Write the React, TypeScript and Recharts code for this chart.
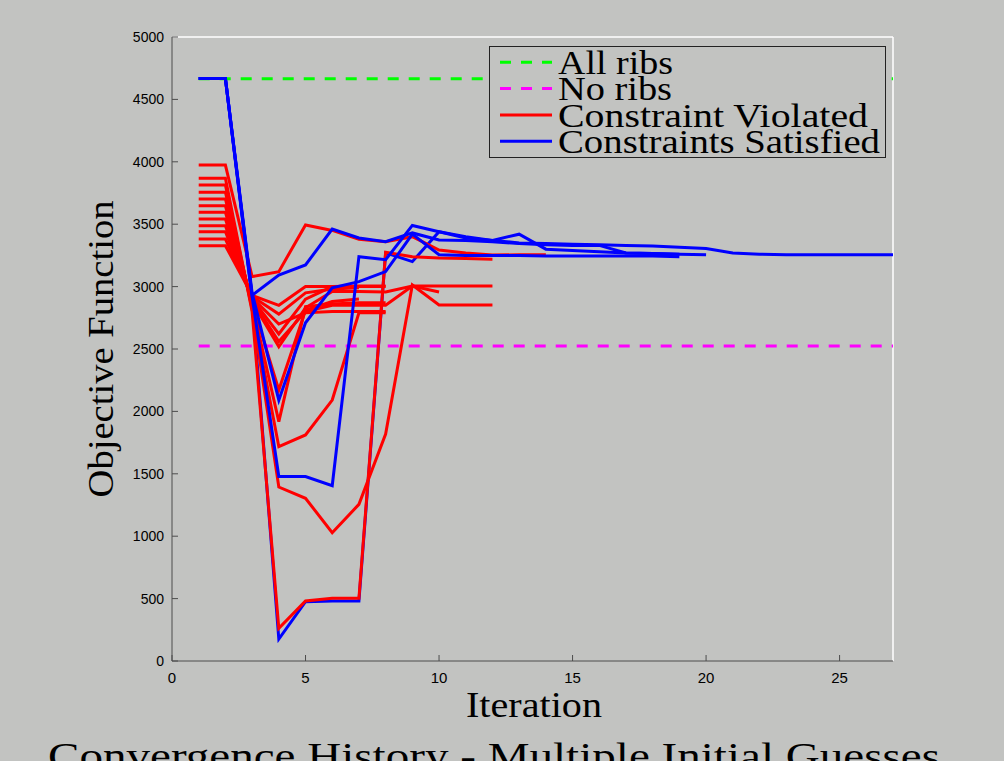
import React from 'react';
import { LineChart, Line, XAxis, YAxis, ReferenceLine, Legend, Label } from 'recharts';

// ---- data ----
const xTicks = [0, 5, 10, 15, 20, 25];
const yTicks = [0, 500, 1000, 1500, 2000, 2500, 3000, 3500, 4000, 4500, 5000];
const refStartEnd = [1, 27];
const allRibsValue = 4665;
const noRibsValue = 2525;

// Constraint violated runs (objective value per iteration, starting at iteration 1)
const red1 = [3974, 3974, 3080, 3120, 3494, 3450, 3380, 3360, 3400, 3293, 3270, 3253, 3255, 3255];
const red2 = [3868, 3868, 2800, 262, 481, 502, 502, 3275, 3240, 3230, 3225, 3220];
const red3 = [3814, 3814, 2820, 1394, 1304, 1028, 1255, 1819, 3013, 2853, 2853, 2853];
const red4 = [3756, 3756, 2840, 1717, 1811, 2091, 2790, 2790];
const red5 = [3702, 3702, 2860, 1918, 2840, 2860, 2870, 2870];
const red6 = [3648, 3648, 2870, 2171, 2810, 2880, 2900];
const red7 = [3595, 3595, 2880, 2518, 2830, 2960, 2960, 2957, 3005, 2957];
const red8 = [3542, 3542, 2890, 2560, 2800, 2850, 2850, 2850, 3005, 3005, 3005, 3005];
const red9 = [3488, 3488, 2900, 2620, 2900, 3000, 3005, 3005];
const red10 = [3440, 3440, 2910, 2700, 2790, 2800, 2800, 2800];
const red11 = [3381, 3381, 2920, 2780, 2950, 2980, 2990];
const red12 = [3328, 3328, 2930, 2850, 3000, 3000, 3000, 3000];

// Constraints satisfied runs
const blueA = [4667, 4667, 2900, 176, 475, 480, 480, 3270, 3200, 3440, 3390, 3370, 3350, 3345, 3340, 3335, 3330, 3325, 3315, 3305, 3270, 3260, 3255, 3255, 3255, 3255, 3255];
const blueB = [4667, 4667, 2920, 1478, 1478, 1405, 3240, 3215, 3490, 3440, 3400, 3370, 3420, 3300, 3290, 3280, 3270, 3265, 3260, 3255];
const blueC = [4667, 4667, 2950, 2090, 2710, 2990, 3040, 3120, 3420, 3255, 3250, 3250, 3250, 3245, 3245, 3245, 3245, 3245, 3240];
const blueD = [4667, 4667, 2930, 3093, 3173, 3461, 3390, 3360, 3430, 3373, 3370, 3360, 3345, 3335, 3330, 3330, 3270, 3265, 3260];

const legendNames = ['All ribs', 'No ribs', 'Constraint Violated', 'Constraints Satisfied'];

// ---- helpers ----
const toPoints = (vals: number[]) => vals.map((v, i) => ({ x: i + 1, y: v }));
const refPoints = (v: number) => refStartEnd.map((x) => ({ x, y: v }));

const RED = '#ff0000';
const BLUE = '#0000ff';
const BG = '#c2c3c1';
const AXIS = '#4d4d4d';
const SERIF = '"Liberation Serif", "DejaVu Serif", serif';
const SANS = '"Liberation Sans", Arial, sans-serif';

const series: { key: string; vals: number[]; color: string }[] = [
  { key: 'blueA', vals: blueA, color: BLUE },
  { key: 'red1', vals: red1, color: RED },
  { key: 'red2', vals: red2, color: RED },
  { key: 'red3', vals: red3, color: RED },
  { key: 'red4', vals: red4, color: RED },
  { key: 'red5', vals: red5, color: RED },
  { key: 'red6', vals: red6, color: RED },
  { key: 'red7', vals: red7, color: RED },
  { key: 'red8', vals: red8, color: RED },
  { key: 'red9', vals: red9, color: RED },
  { key: 'red10', vals: red10, color: RED },
  { key: 'red11', vals: red11, color: RED },
  { key: 'red12', vals: red12, color: RED },
  { key: 'blueB', vals: blueB, color: BLUE },
  { key: 'blueC', vals: blueC, color: BLUE },
  { key: 'blueD', vals: blueD, color: BLUE },
];

const YTick = (props: any) => {
  const { x, y, payload } = props;
  return (
    <g>
      <line x1={x + 8} x2={x + 14} y1={y} y2={y} stroke={AXIS} strokeWidth={1} />
      <text x={x} y={y} textAnchor="end" dominantBaseline="central" fontFamily={SANS} fontSize={14} fill="#000">
        {payload.value}
      </text>
    </g>
  );
};

const XTick = (props: any) => {
  const { x, y, payload } = props;
  return (
    <g>
      <line x1={x} x2={x} y1={y - 10} y2={y - 16} stroke={AXIS} strokeWidth={1} />
      <text x={x} y={y + 6} textAnchor="middle" dominantBaseline="central" fontFamily={SANS} fontSize={15} fill="#000">
        {payload.value}
      </text>
    </g>
  );
};

const legendStyles = [
  { color: '#00ff00', dash: '11 10', len: 115 },
  { color: '#ff00ff', dash: '11 10', len: 114 },
  { color: RED, dash: undefined, len: 310 },
  { color: BLUE, dash: undefined, len: 322 },
];

const LegendBox = () => (
  <svg width={397} height={112} style={{ display: 'block', overflow: 'visible' }}>
    <rect x={0.5} y={0.5} width={396} height={111} fill={BG} stroke="#222" strokeWidth={1} />
    {legendNames.map((name, i) => {
      const ly = 16.3 + i * 26.3;
      const st = legendStyles[i];
      return (
        <g key={name}>
          <line x1={11} x2={63} y1={ly} y2={ly} stroke={st.color} strokeWidth={3} strokeDasharray={st.dash} />
          <text x={69} y={ly + 11.7} fontFamily={SERIF} fontSize={34} fill="#000" textLength={st.len} lengthAdjust="spacingAndGlyphs">
            {name}
          </text>
        </g>
      );
    })}
  </svg>
);

export default function App() {
  return (
    <div style={{ position: 'absolute', left: 0, top: 0, width: 1004, height: 761, background: BG, overflow: 'hidden' }}>
      <LineChart width={1004} height={761} margin={{ top: 37, right: 111, bottom: 70, left: 112 }}>
        <XAxis
          type="number"
          dataKey="x"
          domain={[0, 27]}
          ticks={xTicks}
          allowDataOverflow
          height={30}
          tickSize={0}
          tickMargin={10}
          tickLine={false}
          axisLine={{ stroke: AXIS, strokeWidth: 1 }}
          tick={<XTick />}
        >
          <Label
            content={(p: any) => {
              const vb = p.viewBox;
              return (
                <g>
                  <text x={vb.x + vb.width / 2 + 1.5} y={vb.y + 56} textAnchor="middle" fontFamily={SERIF} fontSize={36} fill="#000" textLength={136} lengthAdjust="spacingAndGlyphs">
                    Iteration
                  </text>
                  <text x={494} y={769} textAnchor="middle" fontFamily={SERIF} fontSize={38} fill="#000" textLength={892} lengthAdjust="spacingAndGlyphs">
                    Convergence History - Multiple Initial Guesses
                  </text>
                </g>
              );
            }}
          />
        </XAxis>
        <YAxis
          type="number"
          dataKey="y"
          domain={[0, 5000]}
          ticks={yTicks}
          allowDataOverflow
          width={60}
          tickSize={0}
          tickMargin={8}
          tickLine={false}
          axisLine={{ stroke: AXIS, strokeWidth: 1 }}
          tick={<YTick />}
        >
          <Label
            content={(p: any) => {
              const vb = p.viewBox;
              const cx = vb.x + 1;
              const cy = vb.y + vb.height / 2;
              return (
                <text x={cx} y={cy} transform={`rotate(-90 ${cx} ${cy})`} textAnchor="middle" fontFamily={SERIF} fontSize={36} fill="#000" textLength={297} lengthAdjust="spacingAndGlyphs">
                  Objective Function
                </text>
              );
            }}
          />
        </YAxis>
        <ReferenceLine y={5000} stroke="#ffffff" strokeWidth={1.5} />
        <ReferenceLine x={27} stroke="#ffffff" strokeWidth={1.5} />
        <Line data={refPoints(allRibsValue)} dataKey="y" name={legendNames[0]} stroke="#00ff00" strokeWidth={3} strokeDasharray="11 10" dot={false} isAnimationActive={false} />
        <Line data={refPoints(noRibsValue)} dataKey="y" name={legendNames[1]} stroke="#ff00ff" strokeWidth={3} strokeDasharray="11 10" dot={false} isAnimationActive={false} />
        {series.map((s) => (
          <Line key={s.key} data={toPoints(s.vals)} dataKey="y" name={s.key} stroke={s.color} strokeWidth={3} dot={false} isAnimationActive={false} legendType="none" />
        ))}
        <Legend
          layout="vertical"
          align="center"
          verticalAlign="middle"
          wrapperStyle={{ left: 489, top: 46, width: 397, height: 112, overflow: 'visible' }}
          content={() => <LegendBox />}
        />
      </LineChart>
    </div>
  );
}
